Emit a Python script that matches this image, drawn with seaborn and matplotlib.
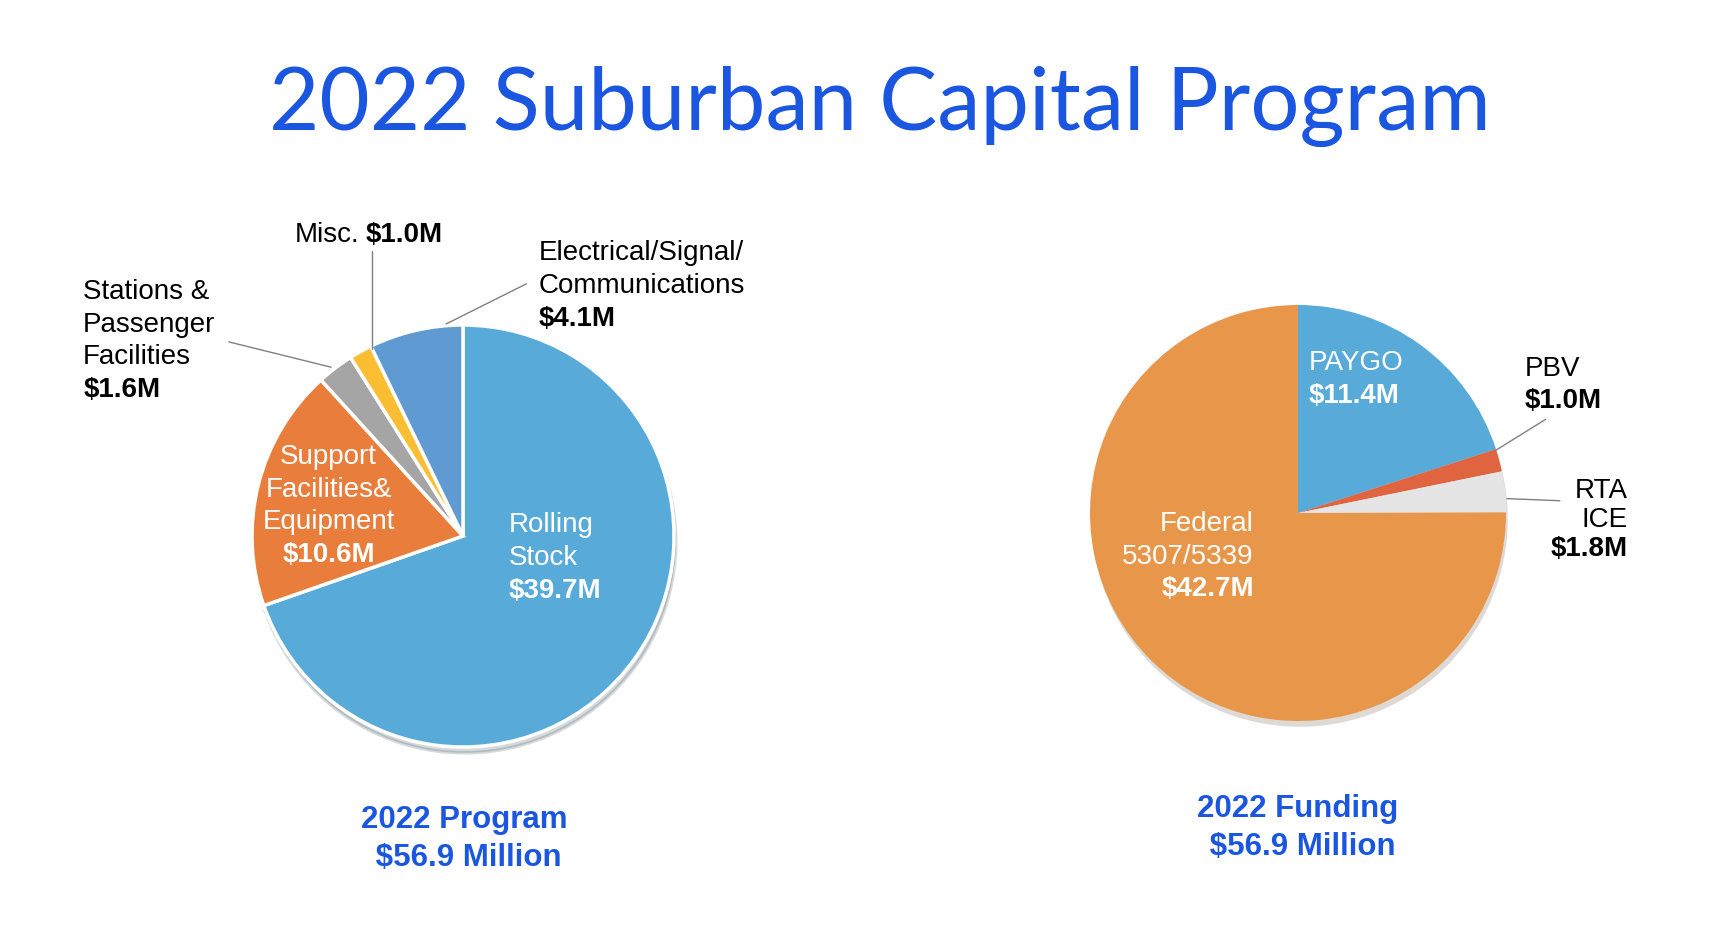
import matplotlib
matplotlib.use("Agg")
import matplotlib.pyplot as plt
import seaborn as sns

# ---- data ----
program_categories = ["Rolling Stock", "Support Facilities& Equipment",
                      "Stations & Passenger Facilities", "Misc.",
                      "Electrical/Signal/Communications"]
program_values = [39.7, 10.6, 1.6, 1.0, 4.1]
funding_categories = ["PAYGO", "PBV", "RTA ICE", "Federal 5307/5339"]
funding_values = [11.4, 1.0, 1.8, 42.7]
title_text = "2022 Suburban Capital Program"
program_caption = "2022 Program\n $56.9 Million"
funding_caption = "2022 Funding\n $56.9 Million"

# ---- style ----
sns.set_theme(style="white")
plt.rcParams["font.family"] = ["Liberation Sans", "DejaVu Sans"]
program_colors = sns.color_palette(["#58aad9", "#e97e3c", "#a5a5a5", "#fbbe33", "#5f9bd2"])
funding_colors = sns.color_palette(["#58aad9", "#e06440", "#e5e5e5", "#e8964a"])
BLUE = "#1a56e0"
LEADER = "#808080"
FS = 20
LH = 23.5

W, H = 1726, 936
fig = plt.figure(figsize=(W / 100, H / 100), dpi=100)
fig.patch.set_facecolor("white")


def make_axes(cx, cy, r):
    ax = fig.add_axes([(cx - r) / W, (H - cy - r) / H, 2 * r / W, 2 * r / H])
    ax.set_xlim(-1, 1)
    ax.set_ylim(-1, 1)
    ax.axis("off")
    return ax


def block(ax, x, y, lines, ha, color, lh=LH):
    for i, (s, b) in enumerate(lines):
        ax.annotate(s, (x, y), xytext=(0, -i * lh), textcoords="offset points",
                    ha=ha, va="center", color=color, fontsize=FS,
                    fontweight="bold" if b else "normal", annotation_clip=False)


def leader(ax, p0, p1):
    ax.plot([p0[0], p1[0]], [p0[1], p1[1]], color=LEADER, lw=1, clip_on=False, zorder=5)


shadow = {"ox": 0.006, "oy": -0.02, "alpha": 0.18}

# ---- left pie ----
ax1 = make_axes(463, 536, 211)
ax1.pie(program_values, colors=program_colors, startangle=90, counterclock=False,
        radius=1, wedgeprops={"edgecolor": "white", "linewidth": 2.5}, shadow=shadow)
ax1.set_xlim(-1, 1); ax1.set_ylim(-1, 1)
block(ax1, 0.216, 0.05, [("Rolling", False), ("Stock", False), ("$39.7M", True)], "left", "white")
block(ax1, -0.637, 0.374, [("Support", False), ("Facilities&", False), ("Equipment", False),
                           ("$10.6M", True)], "center", "white")
block(ax1, -1.80, 1.157, [("Stations &", False), ("Passenger", False), ("Facilities", False),
                           ("$1.6M", True)], "left", "black")
block(ax1, -0.49, 1.427, [("Misc.", False)], "right", "black")
block(ax1, -0.46, 1.427, [("$1.0M", True)], "left", "black")
block(ax1, 0.358, 1.34, [("Electrical/Signal/", False), ("Communications", False),
                         ("$4.1M", True)], "left", "black")
leader(ax1, (-1.11, 0.92), (-0.625, 0.80))
leader(ax1, (-0.43, 1.35), (-0.43, 0.885))
leader(ax1, (0.30, 1.195), (-0.08, 1.005))

# ---- right pie ----
ax2 = make_axes(1298, 513, 208)
ax2.pie(funding_values, colors=funding_colors, startangle=90, counterclock=False,
        radius=1, wedgeprops={"linewidth": 0}, shadow=shadow)
ax2.set_xlim(-1, 1); ax2.set_ylim(-1, 1)
block(ax2, 0.053, 0.72, [("PAYGO", False), ("$11.4M", True)], "left", "white")
block(ax2, 1.09, 0.693, [("PBV", False), ("$1.0M", True)], "left", "black")
block(ax2, 1.587, 0.106, [("RTA", False), ("ICE", False), ("$1.8M", True)], "right", "black", lh=21)
block(ax2, -0.212, -0.053, [("Federal", False), ("5307/5339", False), ("$42.7M", True)], "right", "white")
leader(ax2, (1.19, 0.45), (0.952, 0.302))
leader(ax2, (1.259, 0.059), (1.005, 0.069))

# ---- titles ----
fig.text(0.5095, 1 - 129.5 / H, title_text, ha="center", va="baseline",
         color=BLUE, fontsize=62.5, family=["Lato", "DejaVu Sans"], fontweight="normal")
fig.text(464 / W, 1 - 839 / H, program_caption, ha="center", va="center",
         color=BLUE, fontsize=22.5, fontweight="bold", linespacing=1.32)
fig.text(1298 / W, 1 - 828 / H, funding_caption, ha="center", va="center",
         color=BLUE, fontsize=22.5, fontweight="bold", linespacing=1.32)

fig.savefig("out.png", dpi=100, facecolor="white")
